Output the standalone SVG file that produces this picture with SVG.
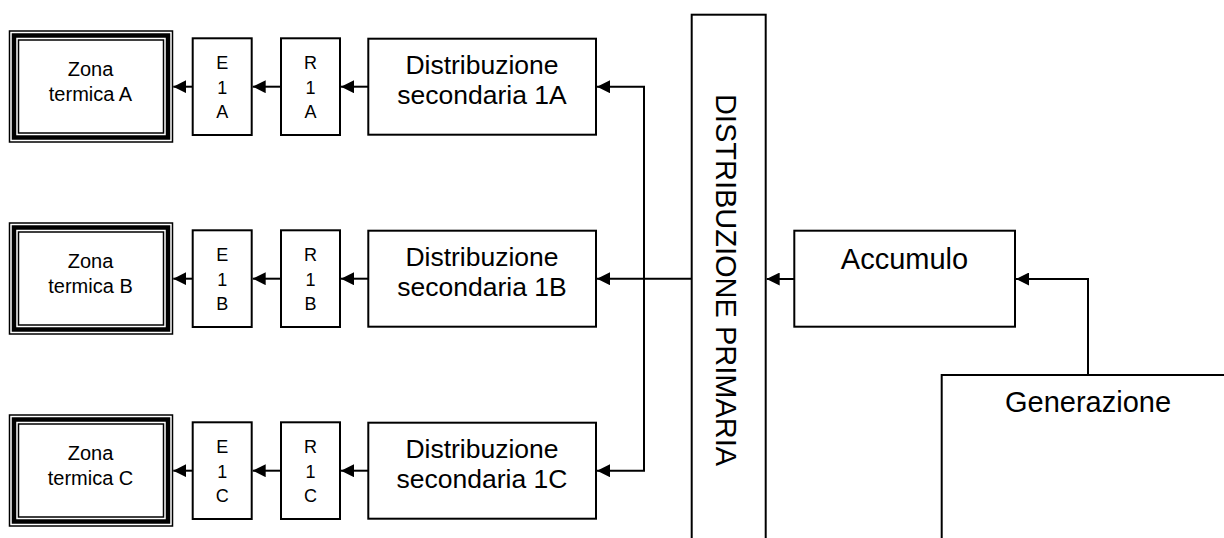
<svg xmlns="http://www.w3.org/2000/svg" width="1224" height="538" viewBox="0 0 1224 538">
<style>
.b{fill:#fff;stroke:#000;stroke-width:2}
.t{font-family:"Liberation Sans",Arial,sans-serif;fill:#000;text-anchor:middle}
.z{font-size:20px}
.s{font-size:18px}
.d{font-size:26.5px}
.l{font-size:29px}
.c{fill:none;stroke:#000;stroke-width:2}
</style>
<defs>
<marker id="ar" viewBox="0 0 10 10" refX="10" refY="5" markerWidth="13" markerHeight="13" markerUnits="userSpaceOnUse" orient="auto">
<path d="M0,0 L10,5 L0,10 Z" fill="#000"/>
</marker>
<g id="zona">
<rect x="9.5" y="31" width="163" height="111" fill="#fff" stroke="#000" stroke-width="1.5"/>
<rect x="14" y="35.5" width="154" height="102" fill="none" stroke="#000" stroke-width="4.5"/>
<rect x="18.5" y="40" width="145" height="93" fill="none" stroke="#000" stroke-width="1.5"/>
</g>
</defs>
<rect width="1224" height="538" fill="#fff"/>

<g id="dist-primaria">
<rect class="b" x="691.7" y="14.7" width="74" height="540"/>
<text class="t l" transform="translate(716,280) rotate(90)" x="0" y="0">DISTRIBUZIONE PRIMARIA</text>
</g>
<g id="accumulo">
<rect class="b" x="794.3" y="230.7" width="220.7" height="96"/>
<text class="t l" x="904.5" y="269.3">Accumulo</text>
</g>
<g id="generazione">
<rect class="b" x="941.7" y="375" width="300" height="200"/>
<text class="t l" x="1088" y="411.7">Generazione</text>
</g>

<g id="row-a">
<g id="zona-a"><use href="#zona"/><text class="t z" x="90.5" y="75.7">Zona</text><text class="t z" x="90.5" y="101">termica A</text></g>
<g id="e1a"><rect class="b" x="192.7" y="38.3" width="59" height="96.7"/><text class="t s" x="222.2" y="69.3">E</text><text class="t s" x="222.2" y="93.8">1</text><text class="t s" x="222.2" y="118.3">A</text></g>
<g id="r1a"><rect class="b" x="281" y="38.3" width="59" height="96.7"/><text class="t s" x="310.5" y="69.3">R</text><text class="t s" x="310.5" y="93.8">1</text><text class="t s" x="310.5" y="118.3">A</text></g>
<g id="dist-1a"><rect class="b" x="368.3" y="38.7" width="227.7" height="96"/><text class="t d" x="482" y="74">Distribuzione</text><text class="t d" x="482" y="104.3">secondaria 1A</text></g>
</g>

<g id="row-b" transform="translate(0,192)">
<g id="zona-b"><use href="#zona"/><text class="t z" x="90.5" y="75.7">Zona</text><text class="t z" x="90.5" y="101">termica B</text></g>
<g id="e1b"><rect class="b" x="192.7" y="38.3" width="59" height="96.7"/><text class="t s" x="222.2" y="69.3">E</text><text class="t s" x="222.2" y="93.8">1</text><text class="t s" x="222.2" y="118.3">B</text></g>
<g id="r1b"><rect class="b" x="281" y="38.3" width="59" height="96.7"/><text class="t s" x="310.5" y="69.3">R</text><text class="t s" x="310.5" y="93.8">1</text><text class="t s" x="310.5" y="118.3">B</text></g>
<g id="dist-1b"><rect class="b" x="368.3" y="38.7" width="227.7" height="96"/><text class="t d" x="482" y="74">Distribuzione</text><text class="t d" x="482" y="104.3">secondaria 1B</text></g>
</g>

<g id="row-c" transform="translate(0,384)">
<g id="zona-c"><use href="#zona"/><text class="t z" x="90.5" y="75.7">Zona</text><text class="t z" x="90.5" y="101">termica C</text></g>
<g id="e1c"><rect class="b" x="192.7" y="38.3" width="59" height="96.7"/><text class="t s" x="222.2" y="69.3">E</text><text class="t s" x="222.2" y="93.8">1</text><text class="t s" x="222.2" y="118.3">C</text></g>
<g id="r1c"><rect class="b" x="281" y="38.3" width="59" height="96.7"/><text class="t s" x="310.5" y="69.3">R</text><text class="t s" x="310.5" y="93.8">1</text><text class="t s" x="310.5" y="118.3">C</text></g>
<g id="dist-1c"><rect class="b" x="368.3" y="38.7" width="227.7" height="96"/><text class="t d" x="482" y="74">Distribuzione</text><text class="t d" x="482" y="104.3">secondaria 1C</text></g>
</g>

<g id="connectors">
<path class="c" d="M192.7,86.7 H173.3" marker-end="url(#ar)"/>
<path class="c" d="M281,86.7 H252.7" marker-end="url(#ar)"/>
<path class="c" d="M368.3,86.7 H341" marker-end="url(#ar)"/>
<path class="c" d="M192.7,278.7 H173.3" marker-end="url(#ar)"/>
<path class="c" d="M281,278.7 H252.7" marker-end="url(#ar)"/>
<path class="c" d="M368.3,278.7 H341" marker-end="url(#ar)"/>
<path class="c" d="M192.7,470.7 H173.3" marker-end="url(#ar)"/>
<path class="c" d="M281,470.7 H252.7" marker-end="url(#ar)"/>
<path class="c" d="M368.3,470.7 H341" marker-end="url(#ar)"/>
<path class="c" d="M644,278.7 V86.7 H597" marker-end="url(#ar)"/>
<path class="c" d="M644,278.7 V470.7 H597" marker-end="url(#ar)"/>
<path class="c" d="M691.7,278.7 H597" marker-end="url(#ar)"/>
<path class="c" d="M794.3,279 H766.7" marker-end="url(#ar)"/>
<path class="c" d="M1088,375 V279 H1016" marker-end="url(#ar)"/>
</g>
</svg>
